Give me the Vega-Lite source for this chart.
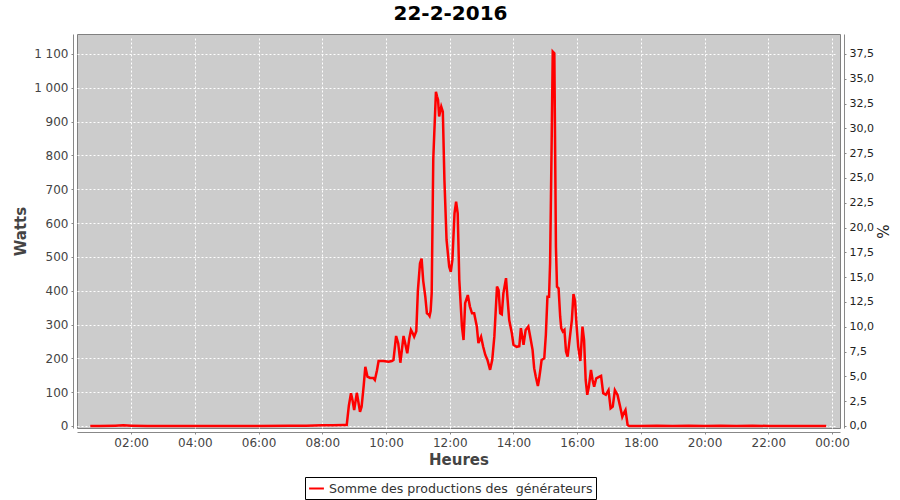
{
  "$schema": "https://vega.github.io/schema/vega-lite/v6.json",
  "width": 763,
  "height": 394,
  "autosize": {"type": "none"},
  "padding": {"left": 77, "top": 34, "right": 60, "bottom": 72},
  "background": "white",
  "title": {"text": "22-2-2016", "font": "DejaVu Sans", "fontSize": 20, "fontWeight": "bold", "color": "#000000", "anchor": "middle", "frame": "group", "dx": -8, "offset": 10},
  "config": {
    "view": {"fill": "#cccccc", "stroke": "#808080", "strokeWidth": 1},
    "axis": {
      "labelFont": "DejaVu Sans", "labelFontSize": 12, "labelColor": "#444444",
      "titleFont": "DejaVu Sans", "titleFontSize": 15, "titleFontWeight": "bold", "titleColor": "#444444",
      "domainColor": "#888888", "tickColor": "#888888", "tickSize": 2, "labelPadding": 3, "offset": 4,
      "gridColor": "#ffffff", "gridDash": [2, 2], "gridWidth": 1
    }
  },
  "data": {"values": [
    {"t": "2016-02-22T00:43", "w": 0}, {"t": "2016-02-22T01:00", "w": 0}, {"t": "2016-02-22T01:30", "w": 1}, {"t": "2016-02-22T01:45", "w": 2},
    {"t": "2016-02-22T02:00", "w": 1}, {"t": "2016-02-22T02:30", "w": 0}, {"t": "2016-02-22T03:00", "w": 0}, {"t": "2016-02-22T04:00", "w": 0},
    {"t": "2016-02-22T05:00", "w": 0}, {"t": "2016-02-22T06:00", "w": 0}, {"t": "2016-02-22T07:00", "w": 1}, {"t": "2016-02-22T07:30", "w": 1},
    {"t": "2016-02-22T08:00", "w": 2}, {"t": "2016-02-22T08:20", "w": 2}, {"t": "2016-02-22T08:40", "w": 3}, {"t": "2016-02-22T08:46", "w": 3},
    {"t": "2016-02-22T08:50", "w": 60}, {"t": "2016-02-22T08:54", "w": 97}, {"t": "2016-02-22T08:57", "w": 75}, {"t": "2016-02-22T09:00", "w": 47},
    {"t": "2016-02-22T09:05", "w": 98}, {"t": "2016-02-22T09:08", "w": 70}, {"t": "2016-02-22T09:11", "w": 42}, {"t": "2016-02-22T09:14", "w": 57},
    {"t": "2016-02-22T09:18", "w": 120}, {"t": "2016-02-22T09:21", "w": 175}, {"t": "2016-02-22T09:25", "w": 146}, {"t": "2016-02-22T09:30", "w": 142},
    {"t": "2016-02-22T09:36", "w": 142}, {"t": "2016-02-22T09:39", "w": 136}, {"t": "2016-02-22T09:43", "w": 165}, {"t": "2016-02-22T09:46", "w": 192},
    {"t": "2016-02-22T09:55", "w": 192}, {"t": "2016-02-22T10:05", "w": 190}, {"t": "2016-02-22T10:11", "w": 192}, {"t": "2016-02-22T10:14", "w": 195},
    {"t": "2016-02-22T10:19", "w": 266}, {"t": "2016-02-22T10:23", "w": 244}, {"t": "2016-02-22T10:27", "w": 187}, {"t": "2016-02-22T10:33", "w": 266},
    {"t": "2016-02-22T10:36", "w": 245}, {"t": "2016-02-22T10:40", "w": 215}, {"t": "2016-02-22T10:44", "w": 260}, {"t": "2016-02-22T10:47", "w": 284},
    {"t": "2016-02-22T10:50", "w": 275}, {"t": "2016-02-22T10:53", "w": 264}, {"t": "2016-02-22T10:57", "w": 280}, {"t": "2016-02-22T11:00", "w": 400},
    {"t": "2016-02-22T11:04", "w": 481}, {"t": "2016-02-22T11:07", "w": 495}, {"t": "2016-02-22T11:10", "w": 430}, {"t": "2016-02-22T11:14", "w": 382},
    {"t": "2016-02-22T11:17", "w": 333}, {"t": "2016-02-22T11:20", "w": 330}, {"t": "2016-02-22T11:22", "w": 325}, {"t": "2016-02-22T11:24", "w": 340},
    {"t": "2016-02-22T11:26", "w": 392}, {"t": "2016-02-22T11:29", "w": 791}, {"t": "2016-02-22T11:34", "w": 988}, {"t": "2016-02-22T11:36", "w": 975},
    {"t": "2016-02-22T11:38", "w": 964}, {"t": "2016-02-22T11:40", "w": 915}, {"t": "2016-02-22T11:44", "w": 944}, {"t": "2016-02-22T11:47", "w": 929},
    {"t": "2016-02-22T11:50", "w": 727}, {"t": "2016-02-22T11:54", "w": 550}, {"t": "2016-02-22T11:59", "w": 471}, {"t": "2016-02-22T12:02", "w": 456},
    {"t": "2016-02-22T12:05", "w": 491}, {"t": "2016-02-22T12:09", "w": 629}, {"t": "2016-02-22T12:12", "w": 663}, {"t": "2016-02-22T12:15", "w": 629},
    {"t": "2016-02-22T12:18", "w": 432}, {"t": "2016-02-22T12:23", "w": 294}, {"t": "2016-02-22T12:26", "w": 254}, {"t": "2016-02-22T12:29", "w": 363},
    {"t": "2016-02-22T12:34", "w": 387}, {"t": "2016-02-22T12:38", "w": 353}, {"t": "2016-02-22T12:42", "w": 333}, {"t": "2016-02-22T12:46", "w": 333},
    {"t": "2016-02-22T12:51", "w": 294}, {"t": "2016-02-22T12:54", "w": 245}, {"t": "2016-02-22T12:59", "w": 264}, {"t": "2016-02-22T13:03", "w": 234},
    {"t": "2016-02-22T13:07", "w": 210}, {"t": "2016-02-22T13:11", "w": 195}, {"t": "2016-02-22T13:16", "w": 166}, {"t": "2016-02-22T13:20", "w": 195},
    {"t": "2016-02-22T13:24", "w": 264}, {"t": "2016-02-22T13:29", "w": 412}, {"t": "2016-02-22T13:32", "w": 402}, {"t": "2016-02-22T13:35", "w": 333},
    {"t": "2016-02-22T13:38", "w": 330}, {"t": "2016-02-22T13:41", "w": 392}, {"t": "2016-02-22T13:46", "w": 437}, {"t": "2016-02-22T13:49", "w": 373},
    {"t": "2016-02-22T13:52", "w": 313}, {"t": "2016-02-22T13:57", "w": 274}, {"t": "2016-02-22T14:00", "w": 240}, {"t": "2016-02-22T14:06", "w": 234},
    {"t": "2016-02-22T14:11", "w": 236}, {"t": "2016-02-22T14:14", "w": 289}, {"t": "2016-02-22T14:19", "w": 240}, {"t": "2016-02-22T14:23", "w": 284},
    {"t": "2016-02-22T14:28", "w": 294}, {"t": "2016-02-22T14:31", "w": 269}, {"t": "2016-02-22T14:36", "w": 225}, {"t": "2016-02-22T14:39", "w": 171},
    {"t": "2016-02-22T14:42", "w": 146}, {"t": "2016-02-22T14:46", "w": 118}, {"t": "2016-02-22T14:48", "w": 136}, {"t": "2016-02-22T14:51", "w": 170},
    {"t": "2016-02-22T14:53", "w": 195}, {"t": "2016-02-22T14:58", "w": 200}, {"t": "2016-02-22T15:01", "w": 269}, {"t": "2016-02-22T15:04", "w": 382},
    {"t": "2016-02-22T15:07", "w": 382}, {"t": "2016-02-22T15:09", "w": 481}, {"t": "2016-02-22T15:12", "w": 846}, {"t": "2016-02-22T15:14", "w": 1107},
    {"t": "2016-02-22T15:17", "w": 1102}, {"t": "2016-02-22T15:20", "w": 530}, {"t": "2016-02-22T15:22", "w": 412}, {"t": "2016-02-22T15:25", "w": 407},
    {"t": "2016-02-22T15:28", "w": 323}, {"t": "2016-02-22T15:30", "w": 289}, {"t": "2016-02-22T15:33", "w": 279}, {"t": "2016-02-22T15:36", "w": 284},
    {"t": "2016-02-22T15:39", "w": 220}, {"t": "2016-02-22T15:42", "w": 205}, {"t": "2016-02-22T15:45", "w": 245}, {"t": "2016-02-22T15:50", "w": 313},
    {"t": "2016-02-22T15:53", "w": 390}, {"t": "2016-02-22T15:56", "w": 370}, {"t": "2016-02-22T15:59", "w": 294}, {"t": "2016-02-22T16:02", "w": 234},
    {"t": "2016-02-22T16:06", "w": 192}, {"t": "2016-02-22T16:10", "w": 294}, {"t": "2016-02-22T16:13", "w": 254}, {"t": "2016-02-22T16:16", "w": 136},
    {"t": "2016-02-22T16:19", "w": 92}, {"t": "2016-02-22T16:22", "w": 116}, {"t": "2016-02-22T16:26", "w": 166}, {"t": "2016-02-22T16:29", "w": 136},
    {"t": "2016-02-22T16:32", "w": 116}, {"t": "2016-02-22T16:36", "w": 141}, {"t": "2016-02-22T16:42", "w": 146}, {"t": "2016-02-22T16:45", "w": 148},
    {"t": "2016-02-22T16:49", "w": 97}, {"t": "2016-02-22T16:54", "w": 92}, {"t": "2016-02-22T16:59", "w": 106}, {"t": "2016-02-22T17:03", "w": 52},
    {"t": "2016-02-22T17:07", "w": 57}, {"t": "2016-02-22T17:11", "w": 106}, {"t": "2016-02-22T17:16", "w": 92}, {"t": "2016-02-22T17:21", "w": 57},
    {"t": "2016-02-22T17:25", "w": 27}, {"t": "2016-02-22T17:28", "w": 38}, {"t": "2016-02-22T17:31", "w": 47}, {"t": "2016-02-22T17:35", "w": 3},
    {"t": "2016-02-22T17:38", "w": 0}, {"t": "2016-02-22T18:00", "w": 0}, {"t": "2016-02-22T18:30", "w": 1}, {"t": "2016-02-22T19:00", "w": 0},
    {"t": "2016-02-22T19:30", "w": 1}, {"t": "2016-02-22T20:00", "w": 0}, {"t": "2016-02-22T20:30", "w": 1}, {"t": "2016-02-22T21:00", "w": 0},
    {"t": "2016-02-22T21:30", "w": 1}, {"t": "2016-02-22T22:00", "w": 0}, {"t": "2016-02-22T22:30", "w": 0}, {"t": "2016-02-22T23:00", "w": 0},
    {"t": "2016-02-22T23:30", "w": 0}, {"t": "2016-02-22T23:49", "w": 0}
  ]},
  "encoding": {
    "x": {
      "field": "t", "type": "temporal",
      "scale": {"domain": [{"year": 2016, "month": 2, "date": 22, "hours": 0, "minutes": 18}, {"year": 2016, "month": 2, "date": 23, "hours": 0, "minutes": 15}]},
      "axis": {
        "title": "Heures", "format": "%H:%M", "titlePadding": 4, "grid": true,
        "values": [
          {"year": 2016, "month": 2, "date": 22, "hours": 2}, {"year": 2016, "month": 2, "date": 22, "hours": 4},
          {"year": 2016, "month": 2, "date": 22, "hours": 6}, {"year": 2016, "month": 2, "date": 22, "hours": 8},
          {"year": 2016, "month": 2, "date": 22, "hours": 10}, {"year": 2016, "month": 2, "date": 22, "hours": 12},
          {"year": 2016, "month": 2, "date": 22, "hours": 14}, {"year": 2016, "month": 2, "date": 22, "hours": 16},
          {"year": 2016, "month": 2, "date": 22, "hours": 18}, {"year": 2016, "month": 2, "date": 22, "hours": 20},
          {"year": 2016, "month": 2, "date": 22, "hours": 22}, {"year": 2016, "month": 2, "date": 23, "hours": 0}
        ]
      }
    }
  },
  "layer": [
    {
      "mark": {"type": "line", "strokeWidth": 2.5, "interpolate": "linear"},
      "encoding": {
        "y": {
          "field": "w", "type": "quantitative",
          "scale": {"domain": [-6, 1159], "nice": false, "zero": false},
          "axis": {"title": "Watts", "orient": "left", "grid": true, "values": [0, 100, 200, 300, 400, 500, 600, 700, 800, 900, 1000, 1100],
                   "labelExpr": "replace(format(datum.value, ','), ',', ' ')", "titlePadding": 5}
        },
        "color": {
          "datum": "Somme des productions des\u00a0 générateurs",
          "type": "nominal",
          "scale": {"range": ["#ff0000"]},
          "legend": {
            "title": null, "orient": "none", "legendX": 228, "legendY": 443,
            "strokeColor": "#000000", "padding": 3, "cornerRadius": 0, "fillColor": "#ffffff",
            "symbolType": "stroke", "symbolStrokeWidth": 2, "symbolSize": 220, "symbolStrokeColor": "#ff0000",
            "labelFont": "DejaVu Sans", "labelFontSize": 12.6, "labelColor": "#333333", "labelLimit": 400
          }
        }
      }
    },
    {
      "mark": {"type": "line", "strokeOpacity": 0, "clip": true},
      "encoding": {
        "y": {
          "field": "w", "type": "quantitative",
          "scale": {"domain": [-0.2045, 39.511], "nice": false, "zero": false},
          "axis": {"title": "%", "orient": "right", "grid": false, "values": [0, 2.5, 5, 7.5, 10, 12.5, 15, 17.5, 20, 22.5, 25, 27.5, 30, 32.5, 35, 37.5],
                   "labelExpr": "replace(format(datum.value, '.1f'), '.', ',')", "labelFontSize": 11, "labelColor": "#222222", "titlePadding": 0, "titleFontWeight": "normal", "titleColor": "#222222"}
        }
      }
    }
  ],
  "resolve": {"scale": {"y": "independent"}}
}
